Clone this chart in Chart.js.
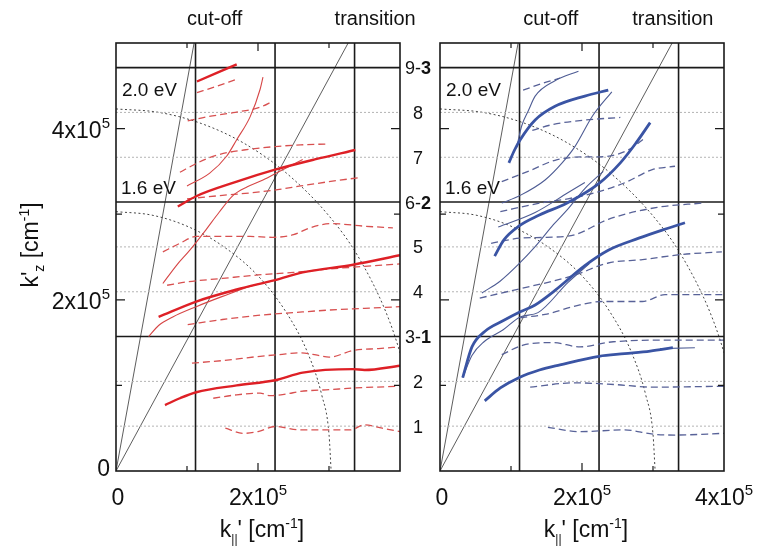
<!DOCTYPE html>
<html>
<head>
<meta charset="utf-8">
<script src="https://cdn.jsdelivr.net/npm/chart.js@4.4.0/dist/chart.umd.min.js"></script>
<style>
html, body { margin: 0; padding: 0; background: #fff; }
#wrap { position: relative; width: 757px; height: 552px; }
#wrap canvas { position: absolute; left: 0; top: 0; }
</style>
</head>
<body>
<div id="wrap">
	<canvas id="leftChart" width="757" height="552"></canvas>
	<canvas id="rightChart" width="757" height="552"></canvas>
</div>
<script>
// all wavevectors in units of 1e5 cm^-1
const xTickLabelsLeft = ['0', '2'];
const xTickLabelsRight = ['0', '2', '4'];
const yTickLabels = ['0', '2', '4'];
const modeLevels = [0.524, 1.047, 1.571, 2.094, 2.618, 3.142, 3.665, 4.189, 4.712];
const modeLabels = ['1', '2', '3-1', '4', '5', '6-2', '7', '8', '9-3'];
const boundaryX = [1.12, 2.24, 3.36];
const lightLineSteep = [[0, 0], [1.10, 5.0]];
const lightLineShallow = [[0, 0], [3.27, 5.0]];
const arc16 = [[0, 3.03], [0.5, 2.99], [1.0, 2.86], [1.5, 2.63], [2.0, 2.28], [2.4, 1.85], [2.7, 1.38], [2.9, 0.88], [3.0, 0.43], [3.03, 0]];
const arc20 = [[0, 4.23], [0.6, 4.19], [1.2, 4.06], [1.8, 3.83], [2.4, 3.48], [3.0, 2.98], [3.4, 2.52], [3.8, 1.86], [4.0, 1.38], [4.1, 1.04]];

// left panel (red)
const redThick = [
	[[1.14, 4.55], [1.42, 4.65], [1.70, 4.75]],
	[[0.87, 3.09], [1.13, 3.21], [1.7, 3.38], [2.24, 3.52], [2.8, 3.64], [3.37, 3.75]],
	[[0.60, 1.80], [1.13, 1.98], [1.7, 2.12], [2.24, 2.23], [2.63, 2.32], [3.34, 2.41], [4.0, 2.52]],
	[[0.69, 0.77], [0.9, 0.85], [1.13, 0.92], [1.7, 1.00], [2.24, 1.06], [2.63, 1.15], [3.34, 1.19], [3.5, 1.18], [4.0, 1.23]]
];
const redThin = [
	[[1.0, 3.33], [1.32, 3.48], [1.56, 3.68], [1.70, 3.87], [1.89, 4.14], [2.03, 4.46], [2.07, 4.60]],
	[[0.46, 1.57], [0.6, 1.70], [0.8, 1.80], [1.13, 1.92], [1.5, 2.04], [1.9, 2.16], [2.2, 2.22]],
	[[0.66, 2.19], [0.85, 2.40], [1.04, 2.58], [1.25, 2.80], [1.45, 3.02], [1.65, 3.22], [1.85, 3.32], [2.07, 3.40], [2.3, 3.50], [2.63, 3.64]]
];
const redDashed = [
	[[1.14, 4.42], [1.4, 4.49], [1.68, 4.57]],
	[[1.01, 4.09], [1.3, 4.14], [1.68, 4.19], [2.03, 4.25], [2.21, 4.32]],
	[[0.90, 3.49], [1.15, 3.60], [1.42, 3.69], [1.8, 3.75], [2.24, 3.79], [2.6, 3.81], [2.97, 3.82]],
	[[1.0, 3.18], [1.5, 3.22], [1.9, 3.25], [2.3, 3.29], [2.6, 3.33], [3.0, 3.38], [3.45, 3.43]],
	[[0.66, 2.56], [0.9, 2.66], [1.13, 2.74], [1.5, 2.74], [1.89, 2.74], [2.2, 2.73], [2.5, 2.76], [2.73, 2.84], [3.03, 2.89], [3.5, 2.86], [3.9, 2.84]],
	[[0.72, 2.17], [1.0, 2.21], [1.5, 2.25], [2.0, 2.29], [2.5, 2.32], [3.0, 2.36], [3.5, 2.39], [4.0, 2.42]],
	[[1.01, 1.71], [1.5, 1.77], [2.03, 1.82], [2.5, 1.85], [3.0, 1.88], [3.5, 1.90], [4.0, 1.92]],
	[[1.07, 1.26], [1.5, 1.29], [2.03, 1.34], [2.3, 1.36], [2.6, 1.38], [2.85, 1.35], [3.0, 1.33], [3.35, 1.41], [3.7, 1.43], [4.0, 1.45]],
	[[1.37, 0.85], [1.7, 0.89], [2.03, 0.91], [2.17, 0.88], [2.4, 0.90], [2.6, 0.93], [3.0, 0.95], [3.37, 0.97], [4.0, 0.99]],
	[[1.54, 0.50], [1.8, 0.44], [2.0, 0.46], [2.24, 0.52], [2.6, 0.48], [3.0, 0.48], [3.3, 0.48], [3.5, 0.54], [3.75, 0.50], [4.0, 0.46]]
];

// right panel (blue)
const blueThick = [
	[[0.97, 3.60], [1.05, 3.75], [1.13, 3.87], [1.34, 4.10], [1.62, 4.26], [2.04, 4.38], [2.37, 4.45]],
	[[0.77, 2.51], [0.9, 2.70], [1.11, 2.86], [1.4, 2.99], [1.79, 3.13], [2.24, 3.36], [2.54, 3.60], [2.75, 3.82], [2.96, 4.07]],
	[[0.32, 1.09], [0.45, 1.45], [0.63, 1.63], [0.9, 1.76], [1.13, 1.86], [1.34, 1.94], [1.62, 2.11], [2.04, 2.40], [2.37, 2.58], [2.8, 2.72], [3.15, 2.82], [3.45, 2.90]],
	[[0.63, 0.82], [0.85, 0.97], [1.11, 1.09], [1.4, 1.18], [1.69, 1.24], [2.24, 1.34], [2.6, 1.37], [2.96, 1.40], [3.28, 1.44]]
];
const blueThin = [
	[[1.08, 3.78], [1.15, 4.03], [1.25, 4.22], [1.34, 4.38], [1.62, 4.56], [1.95, 4.67]],
	[[0.87, 3.13], [1.13, 3.22], [1.48, 3.40], [1.72, 3.60], [1.90, 3.79], [2.15, 4.15], [2.42, 4.43]],
	[[0.59, 2.08], [0.85, 2.22], [1.10, 2.41], [1.34, 2.62], [1.6, 2.88], [1.8, 3.06], [2.04, 3.30], [2.3, 3.5]],
	[[0.32, 1.09], [0.45, 1.35], [0.62, 1.51], [0.89, 1.65], [1.13, 1.80], [1.38, 1.85], [1.8, 2.2], [2.1, 2.42]],
	[[0.82, 2.85], [1.34, 3.02], [1.80, 3.25], [2.04, 3.37]],
	[[3.1, 1.43], [3.59, 1.44]]
];
const blueDashed = [
	[[1.17, 4.45], [1.45, 4.53], [1.69, 4.59]],
	[[1.30, 3.98], [1.6, 4.05], [2.04, 4.10], [2.54, 4.13]],
	[[0.87, 3.38], [1.27, 3.51], [1.62, 3.63], [2.04, 3.67], [2.25, 3.67], [2.65, 3.75], [2.9, 3.9]],
	[[0.85, 3.03], [1.41, 3.13], [1.8, 3.18], [2.18, 3.25], [2.61, 3.37], [2.99, 3.52], [3.31, 3.56]],
	[[0.72, 2.66], [1.13, 2.72], [1.5, 2.73], [1.9, 2.76], [2.37, 2.94], [3.06, 3.08], [3.7, 3.13]],
	[[0.56, 2.02], [1.13, 2.13], [1.55, 2.21], [1.90, 2.29], [2.37, 2.43], [2.85, 2.47], [3.41, 2.53], [3.97, 2.56]],
	[[1.13, 1.79], [1.48, 1.83], [1.97, 1.94], [2.28, 1.98], [2.85, 1.98], [3.17, 2.06], [4.0, 2.06]],
	[[0.87, 1.36], [1.17, 1.47], [1.59, 1.50], [1.97, 1.45], [2.44, 1.51], [3.38, 1.53], [4.0, 1.53]],
	[[1.27, 0.98], [1.90, 1.03], [2.46, 1.01], [3.0, 0.98], [4.0, 0.99]],
	[[1.52, 0.51], [1.97, 0.46], [2.6, 0.48], [3.0, 0.43], [3.31, 0.42], [4.0, 0.44]]
];

const FONT = '"Liberation Sans", Arial, sans-serif';

function pts(arr) {
	return arr.map(p => ({ x: p[0], y: p[1] }));
}

function curve(arr, color, width, dash, smooth) {
	return {
		data: pts(arr),
		showLine: true,
		borderColor: color,
		borderWidth: width,
		borderDash: dash || [],
		pointRadius: 0,
		cubicInterpolationMode: smooth ? 'monotone' : 'default',
		tension: 0,
		fill: false,
	};
}

function referenceSets() {
	const sets = [];
	boundaryX.forEach(x => sets.push(curve([[x, 0], [x, 5]], '#1a1a1a', 1.6)));
	modeLevels.forEach((y, i) => {
		if (i % 3 === 2) {
			sets.push(curve([[0, y], [4, y]], '#1a1a1a', 1.6));
		} else {
			sets.push(curve([[0, y], [4, y]], '#b4b4b4', 1, [2, 2]));
		}
	});
	sets.push(curve(lightLineSteep, '#333', 0.8));
	sets.push(curve(lightLineShallow, '#333', 0.8));
	sets.push(curve(arc16, '#444', 1, [2, 2.5], true));
	sets.push(curve(arc20, '#444', 1, [2, 2.5], true));
	return sets;
}

function richText(ctx, parts, x, y, align) {
	let w = 0;
	parts.forEach(p => {
		ctx.font = (p.bold ? 'bold ' : '') + p.size + 'px ' + FONT;
		p.w = ctx.measureText(p.t).width;
		w += p.w;
	});
	let cx = align === 'center' ? x - w / 2 : (align === 'right' ? x - w : x);
	ctx.textAlign = 'left';
	ctx.textBaseline = 'alphabetic';
	parts.forEach(p => {
		ctx.font = (p.bold ? 'bold ' : '') + p.size + 'px ' + FONT;
		ctx.fillText(p.t, cx, y + (p.dy || 0));
		cx += p.w;
	});
}

function sci(m) {
	if (m === '0') return [{ t: '0', size: 23 }];
	return [{ t: m + 'x10', size: 23 }, { t: '5', size: 15, dy: -10 }];
}

function decorPlugin(side) {
	return {
		id: 'decor' + side,
		afterDatasetsDraw(chart) {
			const ctx = chart.ctx;
			const a = chart.chartArea;
			const xs = chart.scales.x;
			const ys = chart.scales.y;
			ctx.save();
			ctx.fillStyle = '#111';
			ctx.strokeStyle = '#1a1a1a';

			// frame
			ctx.lineWidth = 1.6;
			ctx.strokeRect(a.left, a.top, a.right - a.left, a.bottom - a.top);

			// inward ticks
			ctx.lineWidth = 1.2;
			[1, 2, 3].forEach(v => {
				const px = xs.getPixelForValue(v);
				const len = v === 2 ? 8 : 5;
				ctx.beginPath();
				ctx.moveTo(px, a.bottom); ctx.lineTo(px, a.bottom - len);
				ctx.moveTo(px, a.top); ctx.lineTo(px, a.top + len);
				ctx.stroke();
			});
			[1, 2, 3, 4].forEach(v => {
				const py = ys.getPixelForValue(v);
				const len = v % 2 === 0 ? 9 : 6;
				ctx.beginPath();
				ctx.moveTo(a.left, py); ctx.lineTo(a.left + len, py);
				ctx.moveTo(a.right, py); ctx.lineTo(a.right - len, py);
				ctx.stroke();
			});

			// tick labels
			const xl = side === 'left' ? xTickLabelsLeft : xTickLabelsRight;
			xl.forEach(m => {
				const px = xs.getPixelForValue(Number(m));
				richText(ctx, sci(m), px + (m === '0' ? 2 : 0), a.bottom + 34, 'center');
			});
			if (side === 'left') {
				yTickLabels.forEach(m => {
					const py = ys.getPixelForValue(Number(m));
					richText(ctx, sci(m), a.left - 6, m === '0' ? py + 5 : py + 9, 'right');
				});
				// mode numbers between the panels
				modeLabels.forEach((lab, i) => {
					const py = ys.getPixelForValue(modeLevels[i]);
					const parts = lab.indexOf('-') > 0
						? [{ t: lab.slice(0, 2), size: 18 }, { t: lab.slice(2), size: 18, bold: true }]
						: [{ t: lab, size: 18 }];
					richText(ctx, parts, 418, py + 6.5, 'center');
				});
				// y title
				ctx.save();
				ctx.translate(38, 245);
				ctx.rotate(-Math.PI / 2);
				richText(ctx, [
					{ t: "k'", size: 23 }, { t: 'z', size: 14, dy: 6 }, { t: ' [cm', size: 23 },
					{ t: '-1', size: 14, dy: -9 }, { t: ']', size: 23 }
				], 0, 0, 'center');
				ctx.restore();
			}

			// x title
			const cxTitle = (a.left + a.right) / 2 + 4;
			richText(ctx, [
				{ t: 'k', size: 23 }, { t: '||', size: 12, dy: 6 }, { t: "' [cm", size: 23 },
				{ t: '-1', size: 14, dy: -9 }, { t: ']', size: 23 }
			], cxTitle, 537, 'center');

			// top annotations
			const cut = side === 'left' ? 1.39 : 1.56;
			const trans = side === 'left' ? 3.65 : 3.28;
			richText(ctx, [{ t: 'cut-off', size: 20 }], xs.getPixelForValue(cut), 25, 'center');
			richText(ctx, [{ t: 'transition', size: 20 }], xs.getPixelForValue(trans), 25, 'center');

			// photon energy labels
			richText(ctx, [{ t: '2.0 eV', size: 19 }], a.left + 6, 96, 'left');
			richText(ctx, [{ t: '1.6 eV', size: 19 }], a.left + 5, 194, 'left');
			ctx.restore();
		}
	};
}

function buildChart(id, side, thick, thin, dashed, colors) {
	const datasets = [];
	thick.forEach(c => datasets.push(curve(c, colors.thick, colors.thickW, null, true)));
	thin.forEach(c => datasets.push(curve(c, colors.thin, 1.1, null, true)));
	dashed.forEach(c => datasets.push(curve(c, colors.dashed, 1.3, [7, 4], true)));
	referenceSets().forEach(s => datasets.push(s));

	const padding = side === 'left'
		? { left: 116, right: 357, top: 43, bottom: 81 }
		: { left: 440, right: 33, top: 43, bottom: 81 };

	new Chart(document.getElementById(id).getContext('2d'), {
		type: 'scatter',
		data: { datasets: datasets },
		options: {
			responsive: false,
			animation: false,
			devicePixelRatio: 1,
			layout: { padding: padding },
			plugins: { legend: { display: false }, tooltip: { enabled: false } },
			scales: {
				x: { type: 'linear', min: 0, max: 4, display: false },
				y: { type: 'linear', min: 0, max: 5, display: false }
			}
		},
		plugins: [decorPlugin(side)]
	});
}

buildChart('leftChart', 'left', redThick, redThin, redDashed,
	{ thick: 'rgb(222,32,38)', thickW: 2.4, thin: 'rgb(214,70,70)', dashed: 'rgb(216,80,80)' });
buildChart('rightChart', 'right', blueThick, blueThin, blueDashed,
	{ thick: 'rgb(58,84,164)', thickW: 2.8, thin: 'rgb(78,92,148)', dashed: 'rgb(88,98,152)' });
</script>
</body>
</html>
